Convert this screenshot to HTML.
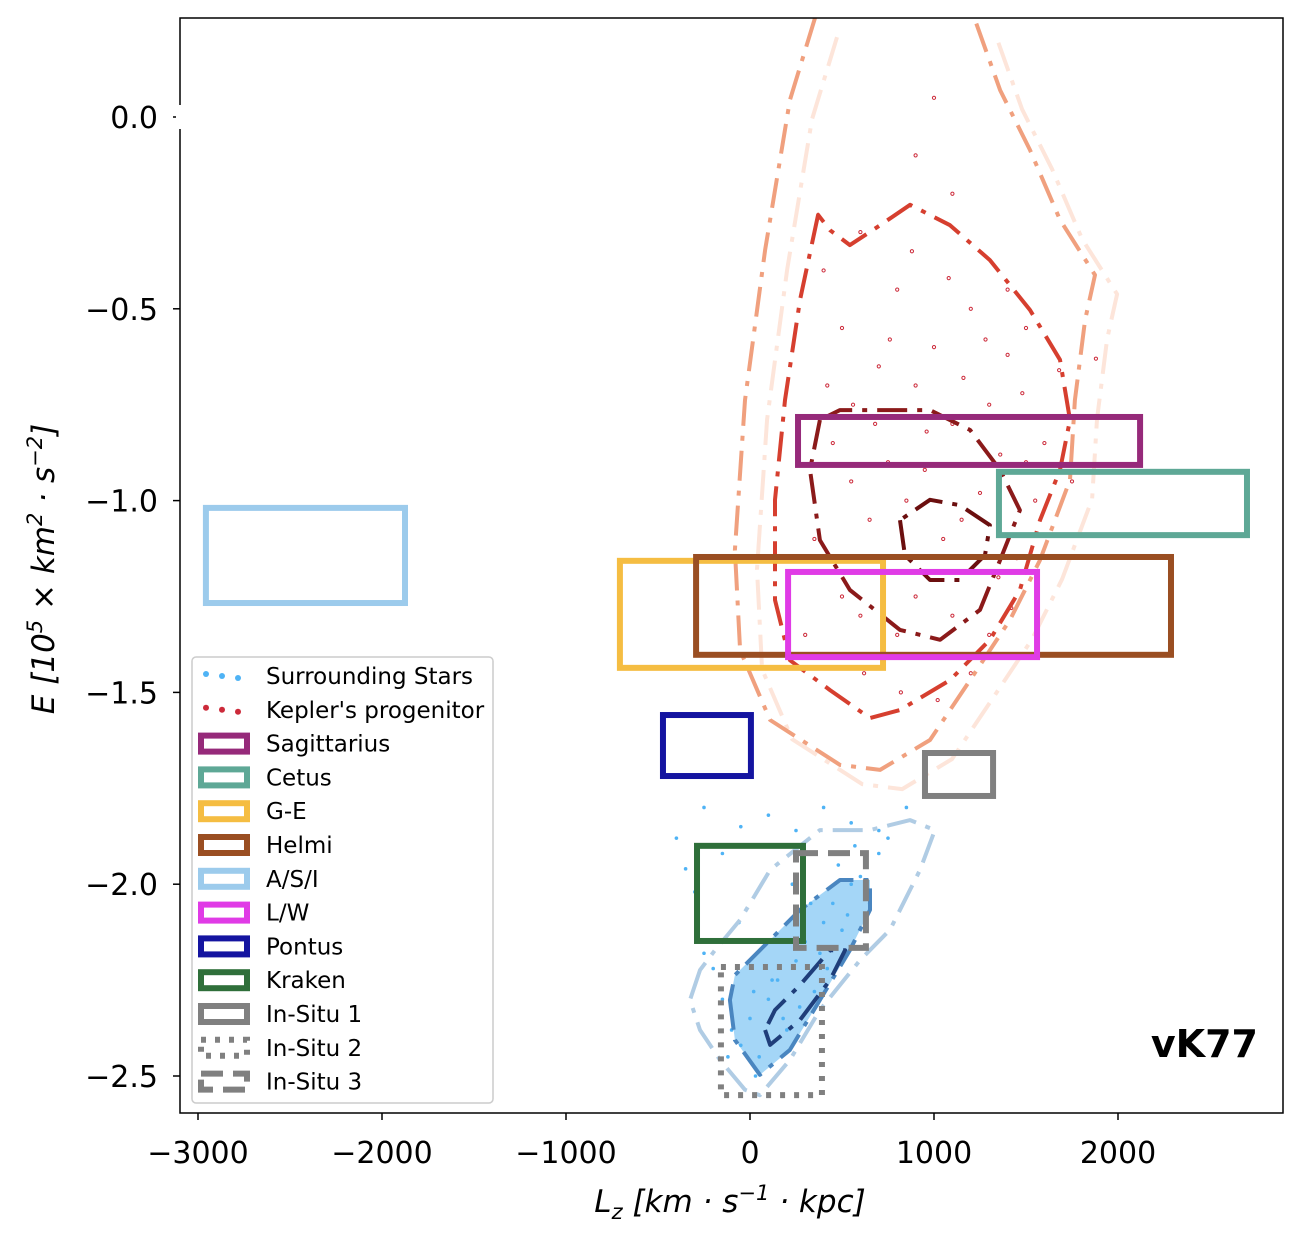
<!DOCTYPE html>
<html><head><meta charset="utf-8"><style>
body{margin:0;background:#fff}
svg text{font-family:"DejaVu Sans","Liberation Sans",sans-serif}
</style></head><body>
<svg id="c" width="1304" height="1246" viewBox="0 0 1304 1246" xmlns="http://www.w3.org/2000/svg">
<rect width="1304" height="1246" fill="#fff"/>
<g id="plot"></g>
<g id="axes"></g>
</svg>
<script>
const xTicks=[-3000,-2000,-1000,0,1000,2000];
const yTicks=[0.0,-0.5,-1.0,-1.5,-2.0,-2.5];
const boxNames=["Sagittarius","Cetus","G-E","Helmi","A/S/I","L/W","Pontus","Kraken","In-Situ 1","In-Situ 2","In-Situ 3"];
const boxColors=["#962a7a","#5ea896","#f5bd42","#9a4e22","#9ccbec","#e03be6","#1414a0","#2f6f3a","#808080","#808080","#808080"];
const boxLz0=[261,1353,-707,-293,-2957,207,-473,-288,951,-158,250];
const boxLz1=[2120,2701,723,2288,-1875,1560,5,288,1321,391,630];
const boxE0=[-0.782,-0.925,-1.157,-1.147,-1.019,-1.186,-1.559,-1.90,-1.658,-2.216,-1.919];
const boxE1=[-0.907,-1.09,-1.436,-1.402,-1.267,-1.408,-1.718,-2.148,-1.770,-2.55,-2.166];
const boxDash=["","","","","","","","","","5,9","22,10"];
const orangeLz=[353,217,82,-27,-82,-54,109,489,707,978,1196,1413,1576,1739,1766,1821,1875,1685,1522,1359,1223];
const orangeE=[0.258,0.044,-0.347,-0.738,-1.129,-1.39,-1.572,-1.689,-1.702,-1.624,-1.468,-1.311,-1.155,-0.946,-0.738,-0.529,-0.412,-0.268,-0.086,0.070,0.253];
const redLz=[370,272,190,136,136,217,435,652,815,1087,1304,1467,1576,1685,1739,1685,1522,1304,1087,870,707,543,435];
const redE=[-0.255,-0.477,-0.738,-0.998,-1.259,-1.416,-1.494,-1.567,-1.546,-1.468,-1.363,-1.233,-1.051,-0.920,-0.790,-0.633,-0.503,-0.373,-0.282,-0.229,-0.282,-0.334,-0.295];
const dredLz=[380,326,380,543,815,1033,1250,1359,1467,1359,1196,978,707,489];
const dredE=[-0.790,-0.920,-1.103,-1.233,-1.337,-1.363,-1.285,-1.155,-1.025,-0.920,-0.816,-0.764,-0.764,-0.764];
const coreLz=[815,842,978,1141,1277,1304,1141,978];
const coreE=[-1.051,-1.142,-1.207,-1.207,-1.142,-1.064,-1.012,-0.998];
const lblueLz=[-272,-326,-272,-163,-27,54,217,380,598,761,924,1005,870,652,380,109,-54,-190];
const lblueE=[-2.224,-2.302,-2.380,-2.458,-2.536,-2.550,-2.458,-2.328,-2.198,-2.119,-1.963,-1.859,-1.833,-1.859,-1.859,-1.963,-2.093,-2.172];
const mblueLz=[-109,-82,54,217,380,543,652,652,489,272,54,-82];
const mblueE=[-2.302,-2.406,-2.497,-2.432,-2.302,-2.172,-2.067,-1.989,-1.989,-2.067,-2.172,-2.237];
const dblueLz=[82,109,272,435,517,435,272,136];
const dblueE=[-2.380,-2.419,-2.354,-2.250,-2.172,-2.172,-2.263,-2.328];
const starLz=[-150,-100,-50,0,50,100,150,200,250,300,350,400,450,500,550,600,650,-200,-250,-120,30,180,330,480,700,750,-60,80,230,380,530,120,270,420,570,20,-300,-350,-400,-250,-150,-50,100,250,400,550,700,850];
const starE=[-2.30,-2.38,-2.42,-2.35,-2.45,-2.30,-2.25,-2.38,-2.20,-2.15,-2.28,-2.10,-2.05,-2.12,-2.00,-1.98,-2.05,-2.22,-2.18,-2.45,-2.50,-2.35,-2.05,-1.95,-1.92,-1.88,-2.10,-2.15,-2.00,-2.18,-2.08,-2.25,-2.32,-2.22,-1.90,-2.28,-2.02,-1.96,-1.88,-1.80,-1.92,-1.85,-1.82,-1.86,-1.80,-1.84,-1.86,-1.80];
const progLz=[400,500,600,700,800,900,1000,1100,1200,1300,1400,1500,1600,450,550,650,750,850,950,1050,1150,1250,1350,1450,1550,500,600,700,800,900,1000,1100,1200,1300,1400,1500,350,420,680,880,1080,1280,1480,1680,1880,620,820,1020,1220,1420,560,760,960,1160,1360,900,1000,1100,300,1750];
const progE=[-0.40,-0.55,-0.30,-0.65,-0.45,-0.70,-0.60,-0.80,-0.50,-0.75,-0.62,-0.90,-0.85,-0.85,-0.95,-1.05,-0.90,-1.00,-0.92,-1.10,-1.05,-0.98,-1.20,-1.15,-1.00,-1.25,-1.30,-1.15,-1.35,-1.25,-1.40,-1.30,-1.45,-1.35,-0.45,-0.55,-1.10,-0.70,-0.80,-0.35,-0.42,-0.58,-0.72,-0.66,-0.63,-1.45,-1.50,-1.52,-1.40,-1.28,-0.75,-0.58,-0.82,-0.68,-0.88,-0.10,0.05,-0.20,-1.35,-0.95];

const X0=180,X1=1283,Y0=18,Y1=1113;
const sx=v=>750+v*0.184, sy=v=>117-v*383.6;
const NS="http://www.w3.org/2000/svg";
const plot=document.getElementById('plot'),axes=document.getElementById('axes');
function mk(t,a,p){const e=document.createElementNS(NS,t);for(const k in a)e.setAttribute(k,a[k]);(p||plot).appendChild(e);return e;}
const defs=mk('defs',{});const cp=mk('clipPath',{id:'clip'},defs);mk('rect',{x:X0,y:Y0,width:X1-X0,height:Y1-Y0},cp);
plot.setAttribute('clip-path','url(#clip)');
function contour(lz,e,color,w,closed,dash,name){
  let d=lz.map((v,i)=>(i?'L':'M')+sx(v).toFixed(1)+','+sy(e[i]).toFixed(1)).join(' ')+(closed?' Z':'');
  const p=mk('path',{d:d,fill:'none',stroke:color,'stroke-width':w,'stroke-dasharray':dash,'stroke-linejoin':'round'});
  
  
}
const blob=mk('path',{d:mblueLz.map((v,i)=>(i?'L':'M')+sx(v)+','+sy(mblueE[i])).join(' ')+'Z',fill:'#5ab4f0',opacity:0.55});


starLz.forEach((v,i)=>{const c=mk('circle',{cx:sx(v),cy:sy(starE[i]),r:1.8,fill:'#4fb3f5'});

});
progLz.forEach((v,i)=>{const c=mk('circle',{cx:sx(v),cy:sy(progE[i]),r:1.6,fill:'none',stroke:'#cc2a3a','stroke-width':1});

});
contour(orangeLz.map(v=>v+120),orangeE.map(v=>v-0.05),'#fde5da',4,false,'30,10,5,10','contour-faint');
contour(orangeLz,orangeE,'#f0a07e',4,false,'30,10,5,10','contour-orange');
contour(redLz,redE,'#d63f2f',4,true,'30,10,5,10','contour-red');
contour(dredLz,dredE,'#8b1a1a',4,true,'30,10,5,10','contour-darkred');
contour(coreLz,coreE,'#6b0f0f',4,true,'30,10,5,10','contour-core');
contour(lblueLz,lblueE,'#b0cce4',4,true,'30,10,5,10','contour-lightblue');
contour(mblueLz,mblueE,'#4a86c0',4,true,'30,10,5,10','contour-midblue');
contour(dblueLz,dblueE,'#1f3e7a',4,true,'30,10,5,10','contour-darkblue');
boxNames.forEach((n,i)=>{
  const x0=sx(boxLz0[i]),x1=sx(boxLz1[i]),y0=sy(boxE0[i]),y1=sy(boxE1[i]);
  const r=mk('rect',{x:x0,y:y0,width:x1-x0,height:y1-y0,fill:'none',stroke:boxColors[i],'stroke-width':6,'stroke-dasharray':boxDash[i]});
  
  
});
const fr=mk('rect',{x:X0,y:Y0,width:X1-X0,height:Y1-Y0,fill:'none',stroke:'#000','stroke-width':1.5},axes);


xTicks.forEach(v=>{const x=sx(v);mk('line',{x1:x,x2:x,y1:Y1,y2:Y1+7,stroke:'#000','stroke-width':1.5},axes);
 const t=mk('text',{x:x,y:Y1+50,'text-anchor':'middle','font-size':30},axes);t.textContent=(v<0?'\u2212'+(-v):v);
 
 });
yTicks.forEach(v=>{const y=sy(v);mk('line',{x1:X0-7,x2:X0,y1:y,y2:y,stroke:'#000','stroke-width':1.5},axes);
 const s=(v<0?'\u2212':'')+Math.abs(v).toFixed(1);
 if(v===0)mk('rect',{x:176,y:y-12,width:8,height:24,fill:'#fff'},axes);
 const t=mk('text',{x:X0-22,y:y+11,'text-anchor':'end','font-size':30},axes);t.textContent=s;
 
 });
const xl=mk('text',{x:730,y:1212,'text-anchor':'middle','font-size':31,'font-style':'italic'},axes);
xl.innerHTML='L<tspan font-size="21" dy="7">z</tspan><tspan dy="-7"> [km · s</tspan><tspan font-size="21" dy="-12">−1</tspan><tspan dy="12"> · kpc]</tspan>';


const yl=mk('text',{x:0,y:0,'text-anchor':'middle','font-size':31,'font-style':'italic',transform:'translate(54,569) rotate(-90)'},axes);
yl.innerHTML='E [10<tspan font-size="21" dy="-12">5</tspan><tspan dy="12"> × km</tspan><tspan font-size="21" dy="-12">2</tspan><tspan dy="12"> · s</tspan><tspan font-size="21" dy="-12">−2</tspan><tspan dy="12">]</tspan>';


const vk=mk('text',{x:1258,y:1057,'text-anchor':'end','font-size':38,'font-weight':'bold'},axes);vk.textContent='vK77';


const lg=mk('g',{},axes);


mk('rect',{x:192,y:657,width:301,height:446,fill:'#fff','fill-opacity':0.85,stroke:'#ccc','stroke-width':1.5,rx:4},lg);
const labels=["Surrounding Stars","Kepler's progenitor"].concat(boxNames);
labels.forEach((n,i)=>{
  const y=676+i*33.8;
  const g=mk('g',{},lg);
  
  
  if(i<2){const col=i?'#cc2a3a':'#4fb3f5';[206,222,238].forEach((x,k)=>mk('circle',{cx:x,cy:y+(k-1)*2,r:3,fill:col},g));}
  else mk('rect',{x:201,y:y-8,width:46,height:16,fill:'none',stroke:boxColors[i-2],'stroke-width':6,'stroke-dasharray':boxDash[i-2]},g);
  const t=mk('text',{x:266,y:y+8,'font-size':23},g);t.textContent=n;
});
</script>
</body></html>
